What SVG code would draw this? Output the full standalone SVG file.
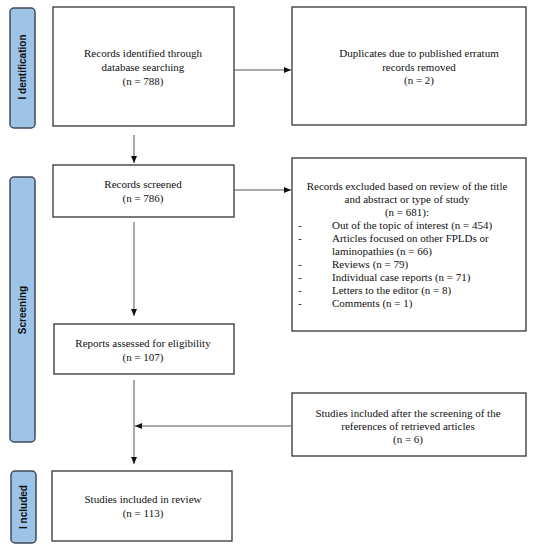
<svg xmlns="http://www.w3.org/2000/svg" width="533" height="550" viewBox="0 0 533 550">
<style>
.box{fill:#fff;stroke:#333;stroke-width:1.3}
.side{fill:#9dc3e6;stroke:#3f4a5a;stroke-width:1.5}
.t{font-family:"Liberation Serif","Times New Roman",serif;font-size:11px;fill:#111;text-anchor:middle}
.l{font-family:"Liberation Serif","Times New Roman",serif;font-size:11px;fill:#111}
.s{font-family:"Liberation Sans",Arial,sans-serif;font-size:10px;font-weight:bold;fill:#111;text-anchor:middle}
.c{fill:none;stroke:#555;stroke-width:1}
</style>
<defs>
<marker id="ah" markerWidth="8" markerHeight="8" refX="7" refY="4" orient="auto" markerUnits="userSpaceOnUse">
<path d="M0,1 L7,4 L0,7 Z" fill="#111"/>
</marker>
</defs>
<g id="side-identification">
<rect class="side" x="10" y="8" width="25" height="120" rx="4"/>
<text class="s" transform="translate(26,67) rotate(-90)">I dentification</text>
</g>
<g id="side-screening">
<rect class="side" x="10" y="177" width="25" height="265" rx="4"/>
<text class="s" transform="translate(26,310) rotate(-90)">Screening</text>
</g>
<g id="side-included">
<rect class="side" x="11" y="471" width="25" height="72" rx="4"/>
<text class="s" transform="translate(27,507) rotate(-90)">I ncluded</text>
</g>
<g id="records-identified">
<rect class="box" x="53" y="7" width="181" height="119"/>
<text class="t" x="143" y="57">Records identified through</text>
<text class="t" x="143" y="71">database searching</text>
<text class="t" x="143" y="85">(n = 788)</text>
</g>
<g id="duplicates">
<rect class="box" x="292" y="7" width="234" height="118"/>
<text class="t" x="419" y="57">Duplicates due to published erratum</text>
<text class="t" x="419" y="71">records removed</text>
<text class="t" x="419" y="84">(n = 2)</text>
</g>
<g id="records-screened">
<rect class="box" x="53" y="165" width="181" height="52"/>
<text class="t" x="143" y="188">Records screened</text>
<text class="t" x="143" y="202">(n = 786)</text>
</g>
<g id="records-excluded">
<rect class="box" x="292" y="158" width="234" height="173"/>
<text class="t" x="407" y="190">Records excluded based on review of the title</text>
<text class="t" x="407" y="203">and abstract or type of study</text>
<text class="t" x="407" y="216">(n = 681):</text>
<text class="l" x="298" y="229">-</text>
<text class="l" x="332" y="229">Out of the topic of interest (n = 454)</text>
<text class="l" x="298" y="242">-</text>
<text class="l" x="332" y="242">Articles focused on other FPLDs or</text>
<text class="l" x="332" y="255">laminopathies (n = 66)</text>
<text class="l" x="298" y="268">-</text>
<text class="l" x="332" y="268">Reviews (n = 79)</text>
<text class="l" x="298" y="281">-</text>
<text class="l" x="332" y="281">Individual case reports (n = 71)</text>
<text class="l" x="298" y="294">-</text>
<text class="l" x="332" y="294">Letters to the editor (n = 8)</text>
<text class="l" x="298" y="307">-</text>
<text class="l" x="332" y="307">Comments (n = 1)</text>
</g>
<g id="reports-assessed">
<rect class="box" x="54" y="324" width="180" height="50"/>
<text class="t" x="143" y="347">Reports assessed for eligibility</text>
<text class="t" x="143" y="361">(n = 107)</text>
</g>
<g id="studies-after-screening">
<rect class="box" x="292" y="393" width="234" height="63"/>
<text class="t" x="408" y="417">Studies included after the screening of the</text>
<text class="t" x="408" y="430">references of retrieved articles</text>
<text class="t" x="408" y="443">(n = 6)</text>
</g>
<g id="studies-included">
<rect class="box" x="52" y="471" width="180" height="70"/>
<text class="t" x="143" y="503">Studies included in review</text>
<text class="t" x="143" y="517">(n = 113)</text>
</g>
<g id="connectors">
<line class="c" x1="234" y1="70" x2="291" y2="70" marker-end="url(#ah)"/>
<line class="c" x1="134" y1="135" x2="134" y2="163" marker-end="url(#ah)"/>
<line class="c" x1="234" y1="190" x2="291" y2="190" marker-end="url(#ah)"/>
<line class="c" x1="134" y1="222" x2="134" y2="316" marker-end="url(#ah)"/>
<line class="c" x1="134" y1="380" x2="134" y2="464" marker-end="url(#ah)"/>
<line class="c" x1="292" y1="426" x2="135" y2="426" marker-end="url(#ah)"/>
</g>
</svg>
